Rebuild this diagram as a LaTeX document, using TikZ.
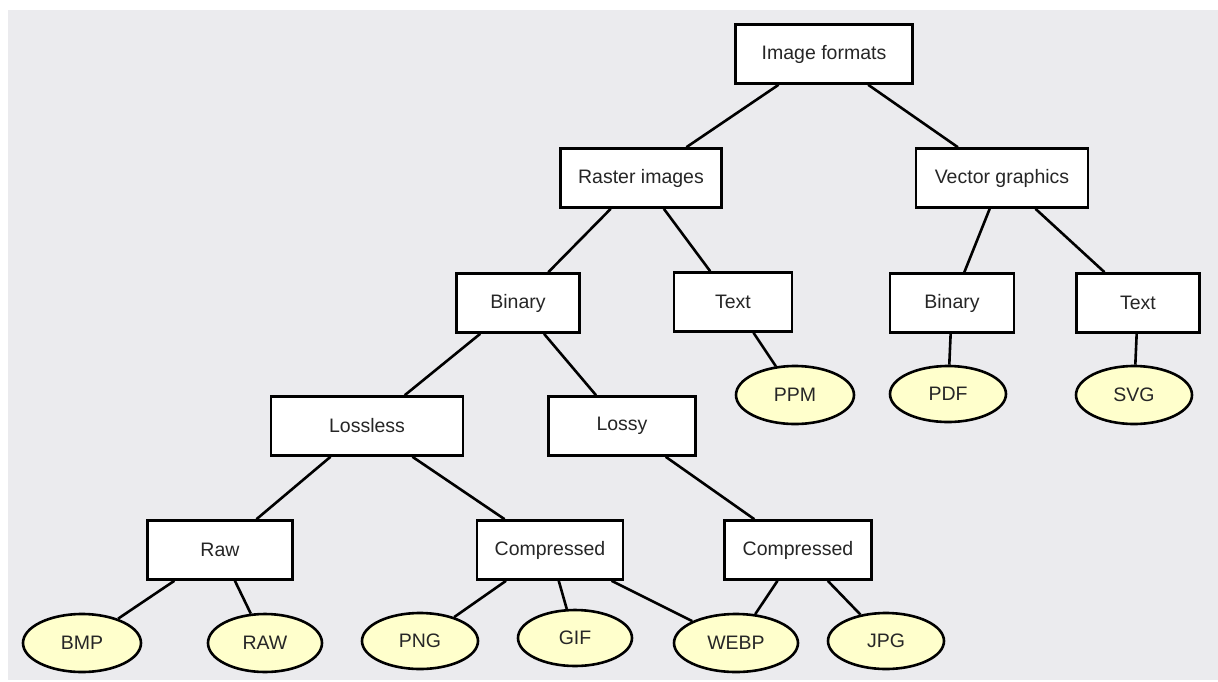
\documentclass[tikz,border=0pt]{standalone}
\usepackage{fontspec}
\setmainfont{Liberation Sans}
\usetikzlibrary{shapes.geometric}
\definecolor{bggrey}{HTML}{EBEBEE}
\definecolor{leafyellow}{HTML}{FFFFCC}
\definecolor{txtgrey}{HTML}{262626}
\tikzset{
	treenode/.style = {align=center, inner sep=0pt, text centered,
		font=\fontsize{19.5}{23}\selectfont, text=txtgrey, line width=2.6pt},
	fmt_box/.style = {treenode, rectangle, draw=black, fill=white,
		minimum height=59pt},% category box
	fmt_leaf/.style = {treenode, ellipse, draw=black, fill=leafyellow,
		minimum width=116pt, minimum height=57pt},% file format leaf
	fmt_edge/.style = {line width=2.6pt, black}
}
\begin{document}
\begin{tikzpicture}[x=1pt,y=-1pt]
	\useasboundingbox (0,0) rectangle (1218,681);
	\fill[bggrey] (8,10) rectangle (1218,680);
	% categories
	\node[fmt_box, minimum width=177pt] (img) at (824,54) {Image formats};
	\node[fmt_box, minimum width=161pt] (ras) at (641,178) {Raster images};
	\node[fmt_box, minimum width=172pt] (vec) at (1002,178) {Vector graphics};
	\node[fmt_box, minimum width=123pt] (rbin) at (518,303) {Binary};
	\node[fmt_box, minimum width=118pt] (rtxt) at (733,302) {Text};
	\node[fmt_box, minimum width=124pt] (vbin) at (952,303) {Binary};
	\node[fmt_box, minimum width=123pt] (vtxt) at (1138,303) {Text};
	\node[fmt_box, minimum width=192pt] (lossless) at (367,426) {Lossless};
	\node[fmt_box, minimum width=147pt] (lossy) at (622,426) {Lossy};
	\node[fmt_box, minimum width=145pt] (raw) at (220,550) {Raw};
	\node[fmt_box, minimum width=146pt] (lcomp) at (550,550) {Compressed};
	\node[fmt_box, minimum width=147pt] (ycomp) at (798,550) {Compressed};
	% formats
	\node[fmt_leaf, minimum width=118pt, minimum height=58pt] (ppm) at (795,395) {PPM};
	\node[fmt_leaf, minimum height=56pt] (pdf) at (948,394) {PDF};
	\node[fmt_leaf, minimum height=58pt] (svg) at (1134,395) {SVG};
	\node[fmt_leaf, minimum width=118pt, minimum height=58pt] (bmp) at (82,643) {BMP};
	\node[fmt_leaf, minimum width=114pt, minimum height=58pt] (rawf) at (265,643) {RAW};
	\node[fmt_leaf, minimum height=56pt] (png) at (420,641) {PNG};
	\node[fmt_leaf, minimum width=114pt, minimum height=56pt] (gif) at (575,638) {GIF};
	\node[fmt_leaf, minimum width=124pt, minimum height=58pt] (webp) at (736,643) {WEBP};
	\node[fmt_leaf, minimum height=56pt] (jpg) at (886,641) {JPG};
	% edges
	\draw[fmt_edge] (img) -- (ras);
	\draw[fmt_edge] (img) -- (vec);
	\draw[fmt_edge] (ras) -- (rbin);
	\draw[fmt_edge] (ras) -- (rtxt);
	\draw[fmt_edge] (vec) -- (vbin);
	\draw[fmt_edge] (vec) -- (vtxt);
	\draw[fmt_edge] (rtxt) -- (ppm);
	\draw[fmt_edge] (vbin) -- (pdf);
	\draw[fmt_edge] (vtxt) -- (svg);
	\draw[fmt_edge] (rbin) -- (lossless);
	\draw[fmt_edge] (rbin) -- (lossy);
	\draw[fmt_edge] (lossless) -- (raw);
	\draw[fmt_edge] (lossless) -- (lcomp);
	\draw[fmt_edge] (lossy) -- (ycomp);
	\draw[fmt_edge] (raw) -- (bmp);
	\draw[fmt_edge] (raw) -- (rawf);
	\draw[fmt_edge] (lcomp) -- (png);
	\draw[fmt_edge] (lcomp) -- (gif);
	\draw[fmt_edge] (lcomp) -- (webp);
	\draw[fmt_edge] (ycomp) -- (webp);
	\draw[fmt_edge] (ycomp) -- (jpg);
\end{tikzpicture}
\end{document}
